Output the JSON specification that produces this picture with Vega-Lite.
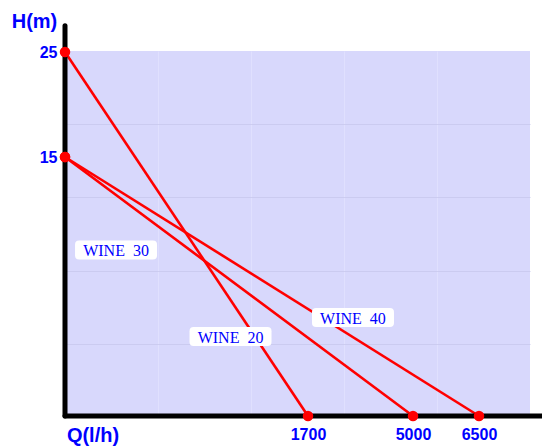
{
  "$schema": "https://vega.github.io/schema/vega-lite/v6.json",
  "width": 465,
  "height": 365,
  "autosize": {"type": "none"},
  "padding": {"left": 65, "top": 51, "right": 12, "bottom": 30},
  "config": {"view": {"fill": "#d8d8fc", "stroke": null}},
  "datasets": {
    "lines": [
      {"series": "WINE 20", "Q": 0, "H": 25},
      {"series": "WINE 20", "Q": 1700, "H": 0},
      {"series": "WINE 30", "Q": 0, "H": 15},
      {"series": "WINE 30", "Q": 5000, "H": 0},
      {"series": "WINE 40", "Q": 0, "H": 15},
      {"series": "WINE 40", "Q": 6500, "H": 0}
    ],
    "labels": [
      {"label": "WINE\u00a0 30", "Q": 357, "H": 9.61},
      {"label": "WINE\u00a0 20", "Q": 1158, "H": 4.6},
      {"label": "WINE\u00a0 40", "Q": 3114, "H": 5.7}
    ]
  },
  "layer": [
    {
      "data": {"name": "lines"},
      "mark": {"type": "line", "color": "#ff0000", "strokeWidth": 2.6},
      "encoding": {
        "x": {
          "field": "Q", "type": "quantitative",
          "scale": {"domain": [0, 1700, 5000, 6500, 7800], "range": [0, 243, 348, 414, 465], "nice": false, "zero": false},
          "axis": {
            "values": [651, 1301, 1700, 2831, 5000, 5545, 6500],
            "grid": true,
            "gridColor": "#e4e4ff",
            "gridWidth": 1,
            "gridOpacity": {"condition": {"test": "indexof([1700,5000,6500], datum.value) >= 0", "value": 0}, "value": 0.7},
            "ticks": false,
            "domain": false,
            "format": "d",
            "labelExpr": "indexof([1700,5000,6500], datum.value) >= 0 ? datum.label : ''",
            "labelOverlap": false,
            "labelFlush": false,
            "labelFont": "Liberation Sans",
            "labelFontWeight": "bold",
            "labelFontSize": 16,
            "labelColor": "#0000ff",
            "labelPadding": 10,
            "title": "Q(l/h)",
            "titleFont": "Liberation Sans",
            "titleFontWeight": "bold",
            "titleFontSize": 20,
            "titleColor": "#0000ff",
            "titleX": 27.5,
            "titleY": 25,
            "titleAlign": "center",
            "titleBaseline": "alphabetic"
          }
        },
        "y": {
          "field": "H", "type": "quantitative",
          "scale": {"domain": [0, 15, 25], "range": [365, 106, 1], "nice": false, "zero": false},
          "axis": {
            "values": [4.17, 8.4, 12.68, 15, 18.14, 25],
            "grid": true,
            "gridColor": "#c8c8ec",
            "gridWidth": 1,
            "gridOpacity": {"condition": {"test": "datum.value == 15 || datum.value == 25", "value": 0}, "value": 0.8},
            "ticks": false,
            "domain": false,
            "format": "d",
            "labelExpr": "(datum.value == 15 || datum.value == 25) ? datum.label : ''",
            "labelOverlap": false,
            "labelFlush": false,
            "labelFont": "Liberation Sans",
            "labelFontWeight": "bold",
            "labelFontSize": 16,
            "labelColor": "#0000ff",
            "labelPadding": 8,
            "title": "H(m)",
            "titleFont": "Liberation Sans",
            "titleFontWeight": "bold",
            "titleFontSize": 20,
            "titleColor": "#0000ff",
            "titleAngle": 0,
            "titleX": -31,
            "titleY": -23.3,
            "titleAlign": "center",
            "titleBaseline": "alphabetic"
          }
        },
        "detail": {"field": "series"}
      }
    },
    {
      "data": {"values": [{}]},
      "mark": {"type": "rule", "color": "black", "strokeWidth": 5, "strokeCap": "round"},
      "encoding": {
        "x": {"datum": 0, "type": "quantitative", "scale": {"domain": [0, 1700, 5000, 6500, 7800], "range": [0, 243, 348, 414, 465], "nice": false, "zero": false}},
        "x2": {"datum": 8110},
        "y": {"datum": 0, "type": "quantitative", "scale": {"domain": [0, 15, 25], "range": [365, 106, 1], "nice": false, "zero": false}}
      }
    },
    {
      "data": {"values": [{}]},
      "mark": {"type": "rule", "color": "black", "strokeWidth": 5, "strokeCap": "round"},
      "encoding": {
        "x": {"datum": 0, "type": "quantitative", "scale": {"domain": [0, 1700, 5000, 6500, 7800], "range": [0, 243, 348, 414, 465], "nice": false, "zero": false}},
        "y": {"datum": 0, "type": "quantitative", "scale": {"domain": [0, 15, 25], "range": [365, 106, 1], "nice": false, "zero": false}},
        "y2": {"datum": 27.5}
      }
    },
    {
      "data": {"name": "lines"},
      "mark": {"type": "point", "filled": true, "color": "#ff0000", "opacity": 1, "size": 110},
      "encoding": {
        "x": {"field": "Q", "type": "quantitative", "scale": {"domain": [0, 1700, 5000, 6500, 7800], "range": [0, 243, 348, 414, 465], "nice": false, "zero": false}},
        "y": {"field": "H", "type": "quantitative", "scale": {"domain": [0, 15, 25], "range": [365, 106, 1], "nice": false, "zero": false}}
      }
    },
    {
      "data": {"name": "labels"},
      "mark": {"type": "point", "filled": true, "color": "white", "opacity": 1, "size": 6724, "shape": "M-0.9 -0.232 H0.9 Q1 -0.232 1 -0.132 V0.132 Q1 0.232 0.9 0.232 H-0.9 Q-1 0.232 -1 0.132 V-0.132 Q-1 -0.232 -0.9 -0.232 Z"},
      "encoding": {
        "x": {"field": "Q", "type": "quantitative", "scale": {"domain": [0, 1700, 5000, 6500, 7800], "range": [0, 243, 348, 414, 465], "nice": false, "zero": false}},
        "y": {"field": "H", "type": "quantitative", "scale": {"domain": [0, 15, 25], "range": [365, 106, 1], "nice": false, "zero": false}}
      }
    },
    {
      "data": {"name": "labels"},
      "mark": {"type": "text", "font": "Liberation Serif", "fontSize": 16, "color": "#0000ff", "align": "center", "baseline": "middle", "dy": 1},
      "encoding": {
        "x": {"field": "Q", "type": "quantitative", "scale": {"domain": [0, 1700, 5000, 6500, 7800], "range": [0, 243, 348, 414, 465], "nice": false, "zero": false}},
        "y": {"field": "H", "type": "quantitative", "scale": {"domain": [0, 15, 25], "range": [365, 106, 1], "nice": false, "zero": false}},
        "text": {"field": "label"}
      }
    }
  ]
}
